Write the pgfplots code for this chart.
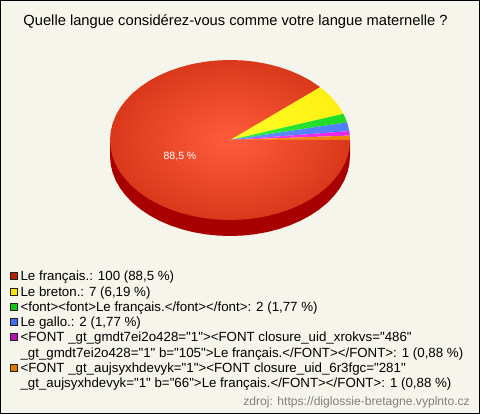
\documentclass[border=0pt]{standalone}
\usepackage{pgfplots}
\pgfplotsset{compat=1.18}
\usepackage{fontspec}
\defaultfontfeatures[\rmfamily]{}
\setmainfont{Liberation Sans}
\definecolor{bgc}{HTML}{F5F5EC}
\definecolor{sideR}{HTML}{A80000}
\definecolor{pr0}{HTML}{FF5C3C}\definecolor{pr1}{HTML}{BC1E00}
\definecolor{py0}{HTML}{FFFF28}\definecolor{py1}{HTML}{FFE400}
\definecolor{pg0}{HTML}{30F040}\definecolor{pg1}{HTML}{10C810}
\definecolor{pb0}{HTML}{6090FF}\definecolor{pb1}{HTML}{4070F8}
\definecolor{pm0}{HTML}{FF40FF}\definecolor{pm1}{HTML}{D010D0}
\definecolor{po0}{HTML}{FF8C20}\definecolor{po1}{HTML}{E07800}
\pgfdeclareradialshading{pieRed}{\pgfpoint{0bp}{0bp}}{color(0bp)=(pr0); color(44bp)=(pr1); color(100bp)=(pr1)}
\pgfdeclareradialshading{pieYellow}{\pgfpoint{0bp}{0bp}}{color(0bp)=(py0); color(44bp)=(py1); color(100bp)=(py1)}
\pgfdeclareradialshading{pieGreen}{\pgfpoint{0bp}{0bp}}{color(0bp)=(pg0); color(44bp)=(pg1); color(100bp)=(pg1)}
\pgfdeclareradialshading{pieBlue}{\pgfpoint{0bp}{0bp}}{color(0bp)=(pb0); color(44bp)=(pb1); color(100bp)=(pb1)}
\pgfdeclareradialshading{pieMag}{\pgfpoint{0bp}{0bp}}{color(0bp)=(pm0); color(44bp)=(pm1); color(100bp)=(pm1)}
\pgfdeclareradialshading{pieOra}{\pgfpoint{0bp}{0bp}}{color(0bp)=(po0); color(44bp)=(po1); color(100bp)=(po1)}
\newcommand{\lgl}[1]{\fontsize{13.3bp}{15.4bp}\selectfont\rule[-4.4bp]{0pt}{15.4bp}#1}
\begin{document}
\begin{tikzpicture}[x=1bp,y=1bp]
\fill[bgc] (0,0) rectangle (480bp,414bp);
\draw[black,line width=1bp] (0.5bp,0.5bp) rectangle (479.5bp,413.5bp);
\begin{axis}[at={(0,0)},anchor=south west,scale only axis,width=480bp,height=414bp,
  xmin=-230,xmax=250,ymin=-274,ymax=140,hide axis,clip=false,
  legend cell align=left,
  legend style={at={(axis cs:-220.5,-130)},anchor=north west,draw=none,fill=none,inner sep=0pt,outer sep=0pt,
    row sep=2.75bp,column sep=3.3bp,nodes={inner sep=0pt,outer sep=0pt}},
  legend image code/.code={\draw[#1,line width=0.8bp] (0bp,-3.5bp) rectangle (7bp,3.5bp);}]
\addplot[forget plot,draw=none,fill=sideR] coordinates {(120,0)(120,-16)(119.34,-24.36)(117.38,-32.63)(114.13,-40.72)(109.63,-48.54)(103.92,-56)(97.08,-63.02)(89.18,-69.53)(80.30,-75.45)(70.53,-80.72)(60,-85.28)(48.81,-89.08)(37.08,-92.08)(24.95,-94.25)(12.54,-95.56)(0,-96)(-12.54,-95.56)(-24.95,-94.25)(-37.08,-92.08)(-48.81,-89.08)(-60,-85.28)(-70.53,-80.72)(-80.30,-75.45)(-89.18,-69.53)(-97.08,-63.02)(-103.92,-56)(-109.63,-48.54)(-114.13,-40.72)(-117.38,-32.63)(-119.34,-24.36)(-120,-16)(-120,0)};
% Le breton 7
\addplot[forget plot,draw=none,shade,shading=pieYellow] coordinates {(0,0)(-120,0)(0,0)(0,80)(0,0)(0,-80)(0,0)(120,0)(0,0)(113.38,26.20)(109.63,32.54)(103.92,40)(97.08,47.02)(89.99,52.92)};
% font 2
\addplot[forget plot,draw=none,shade,shading=pieGreen] coordinates {(0,0)(-120,0)(0,0)(0,80)(0,0)(0,-80)(0,0)(120,0)(0,0)(117.04,17.65)(114.13,24.72)(113.38,26.20)};
% Le gallo 2
\addplot[forget plot,draw=none,shade,shading=pieBlue] coordinates {(0,0)(-120,0)(0,0)(0,80)(0,0)(0,-80)(0,0)(120,0)(0,0)(119.26,8.88)(117.38,16.63)(117.04,17.65)};
% 1
\addplot[forget plot,draw=none,shade,shading=pieMag] coordinates {(0,0)(-120,0)(0,0)(0,80)(0,0)(0,-80)(0,0)(120,0)(0,0)(119.81,4.45)(119.26,8.88)};
% 1
\addplot[forget plot,draw=none,shade,shading=pieOra] coordinates {(0,0)(-120,0)(0,0)(0,80)(0,0)(0,-80)(0,0)(120,0)(0,0)(120,0)(119.81,4.45)};
% Le francais 100
\addplot[forget plot,draw=none,shade,shading=pieRed] coordinates {(0,0)(89.99,52.92)(89.18,53.53)(80.30,59.45)(70.53,64.72)(60,69.28)(48.81,73.08)(37.08,76.08)(24.95,78.25)(12.54,79.56)(0,80)(-12.54,79.56)(-24.95,78.25)(-37.08,76.08)(-48.81,73.08)(-60,69.28)(-70.53,64.72)(-80.30,59.45)(-89.18,53.53)(-97.08,47.02)(-103.92,40)(-109.63,32.54)(-114.13,24.72)(-117.38,16.63)(-119.34,8.36)(-120,0)(-119.34,-8.36)(-117.38,-16.63)(-114.13,-24.72)(-109.63,-32.54)(-103.92,-40)(-97.08,-47.02)(-89.18,-53.53)(-80.30,-59.45)(-70.53,-64.72)(-60,-69.28)(-48.81,-73.08)(-37.08,-76.08)(-24.95,-78.25)(-12.54,-79.56)(0,-80)(12.54,-79.56)(24.95,-78.25)(37.08,-76.08)(48.81,-73.08)(60,-69.28)(70.53,-64.72)(80.30,-59.45)(89.18,-53.53)(97.08,-47.02)(103.92,-40)(109.63,-32.54)(114.13,-24.72)(117.38,-16.63)(119.34,-8.36)(120,0)};
\addlegendimage{draw=black!75!gray,fill=pr1}
\addlegendentry{\lgl{Le français.: 100 (88,5 \%)}}
\addlegendimage{draw=black!75!gray,fill=py1}
\addlegendentry{\lgl{Le breton.: 7 (6,19 \%)}}
\addlegendimage{draw=black!75!gray,fill=pg1}
\addlegendentry{\lgl{<font><font>Le français.</font></font>: 2 (1,77 \%)}}
\addlegendimage{draw=black!75!gray,fill=pb1}
\addlegendentry{\lgl{Le gallo.: 2 (1,77 \%)}}
\addlegendimage{draw=black!75!gray,fill=pm1!90!black}
\addlegendentry{\lgl{<FONT \_gt\_gmdt7ei2o428="1"><FONT closure\_uid\_xrokvs="486"}}
\addlegendimage{empty legend}
\addlegendentry{\lgl{\_gt\_gmdt7ei2o428="1" b="105">Le français.</FONT></FONT>: 1 (0,88 \%)}}
\addlegendimage{draw=black!75!gray,fill=po1}
\addlegendentry{\lgl{<FONT \_gt\_aujsyxhdevyk="1"><FONT closure\_uid\_6r3fgc="281"}}
\addlegendimage{empty legend}
\addlegendentry{\lgl{\_gt\_aujsyxhdevyk="1" b="66">Le français.</FONT></FONT>: 1 (0,88 \%)}}
\node[font=\fontsize{14.7bp}{16bp}\selectfont,black] at (axis cs:5.5,118.5) {Quelle langue considérez-vous comme votre langue maternelle ?};
\node[font=\fontsize{10.5bp}{12bp}\selectfont,white] at (axis cs:-50,-16.5) {88,5 \%};
\node[font=\fontsize{12.1bp}{14bp}\selectfont,black!50,anchor=east,inner sep=0pt] at (axis cs:240,-262.5) {zdroj: https://diglossie-bretagne.vyplnto.cz};
\end{axis}
\end{tikzpicture}
\end{document}
